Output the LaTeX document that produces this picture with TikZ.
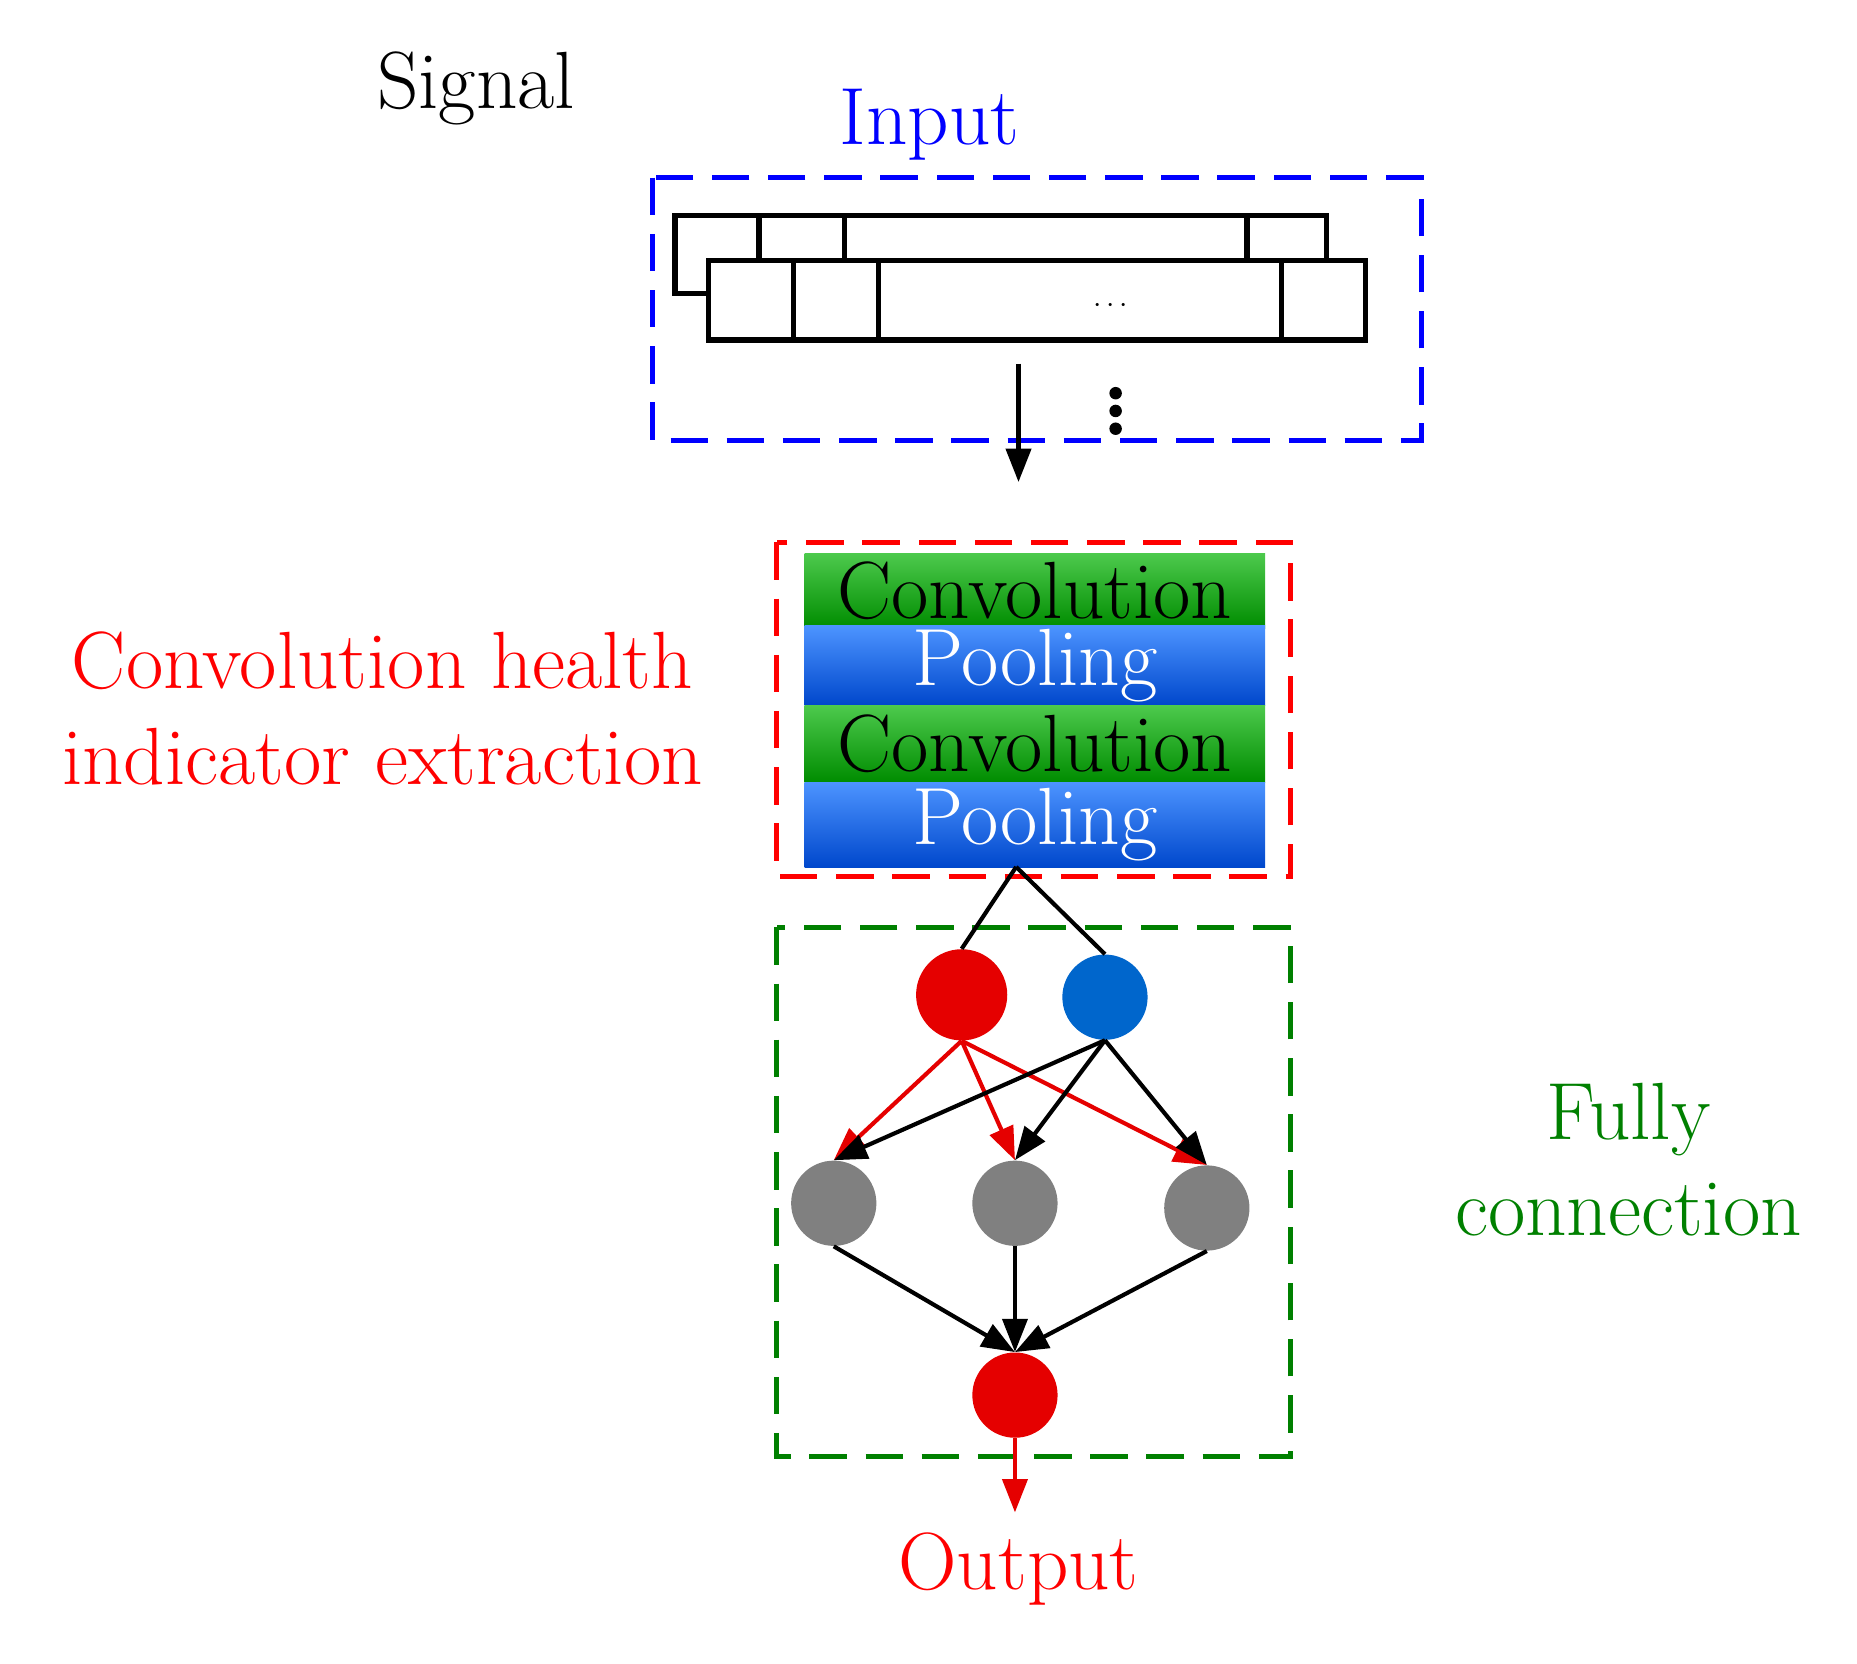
\documentclass[tikz,border=0pt]{standalone}
\usetikzlibrary{arrows.meta}
\begin{document}
\begin{tikzpicture}[x=0.02cm,y=-0.02cm,
  txt/.style={font=\fontsize{39}{46}\selectfont},
  cell/.style={draw=black,line width=2.6pt},
  dbox/.style={dashed,line width=2.4pt,dash pattern=on 18pt off 9pt},
  layer/.style={minimum width=7.78cm,minimum height=1.26cm,inner sep=0pt,anchor=north west,txt},
  neu/.style={circle,minimum size=1.44cm,inner sep=0pt},
  arr/.style={line width=2pt,-{Triangle[length=16pt,width=12pt]}},
  ln/.style={line width=2pt}]
\useasboundingbox (0,0) rectangle (1568,1405);
\node[txt] (sig) at (402,75) {Signal};
\node[txt,text=blue] (inp) at (785,105) {Input};
\draw[dbox,blue] (551,150) rectangle (1200,372);
\draw[cell,fill=white] (570,182) rectangle (1120,248);
\draw[cell] (641,182)--(641,220) (713,182)--(713,220) (1053,182)--(1053,220);
\draw[cell,fill=white] (598,220) rectangle (1153,287);
\draw[cell] (670,220)--(670,287) (742,220)--(742,287) (1082,220)--(1082,287);
\node[font=\Large] (dots) at (938,258) {$\cdots$};
\fill (942,332) circle (3pt);
\fill (942,347) circle (3pt);
\fill (942,362) circle (3pt);
\coordinate (a1) at (860,307); \coordinate (a2) at (860,407);
\draw[arr] (a1)--(a2);
\draw[dbox,red] (656,458) rectangle (1090,740);
\node[layer,top color=green!70!black!70,bottom color=green!55!black] (c1) at (679,467) {Convolution};
\node[layer,top color=blue!60!cyan!70,bottom color=blue!65!cyan!80!black,text=white,minimum height=1.34cm] (p1) at (679,528) {Pooling};
\node[layer,top color=green!70!black!70,bottom color=green!55!black,minimum height=1.3cm] (c2) at (679,595) {Convolution};
\node[layer,top color=blue!60!cyan!70,bottom color=blue!65!cyan!80!black,text=white,minimum height=1.44cm] (p2) at (679,660) {Pooling};
\node[txt,text=red,align=center] (lab) at (323,598) {Convolution health\\indicator extraction};
\draw[dbox,green!50!black] (656,783) rectangle (1090,1230);
\node[txt,text=green!50!black,align=center] (fc) at (1375,979) {Fully\\connection};
\node[neu,fill=red!90!black,minimum width=1.54cm,minimum height=1.44cm] (r) at (812,840) {};
\node[neu,fill=blue!50!cyan!80!black] (b) at (933,842) {};
\node[neu,fill=gray] (g1) at (704,1016) {};
\node[neu,fill=gray] (g2) at (857,1016) {};
\node[neu,fill=gray] (g3) at (1019,1020) {};
\node[neu,fill=red!90!black] (o) at (857,1178) {};
\coordinate (pb) at (858,732);
\draw[ln] (pb)--(r.north); \draw[ln] (pb)--(b.north);
\draw[arr,red!90!black] (r.south)--(g1.north);
\draw[arr,red!90!black] (r.south)--(g2.north);
\draw[arr,red!90!black] (r.south)--(g3.north);
\draw[arr] (b.south)--(g1.north);
\draw[arr] (b.south)--(g2.north);
\draw[arr] (b.south)--(g3.north);
\draw[arr] (g1.south)--(o.north);
\draw[arr] (g2.south)--(o.north);
\draw[arr] (g3.south)--(o.north);
\coordinate (oe) at (857,1277);
\draw[arr,red!90!black] (o.south)--(oe);
\node[txt,text=red] (out) at (860,1325) {Output};
\end{tikzpicture}
\end{document}
